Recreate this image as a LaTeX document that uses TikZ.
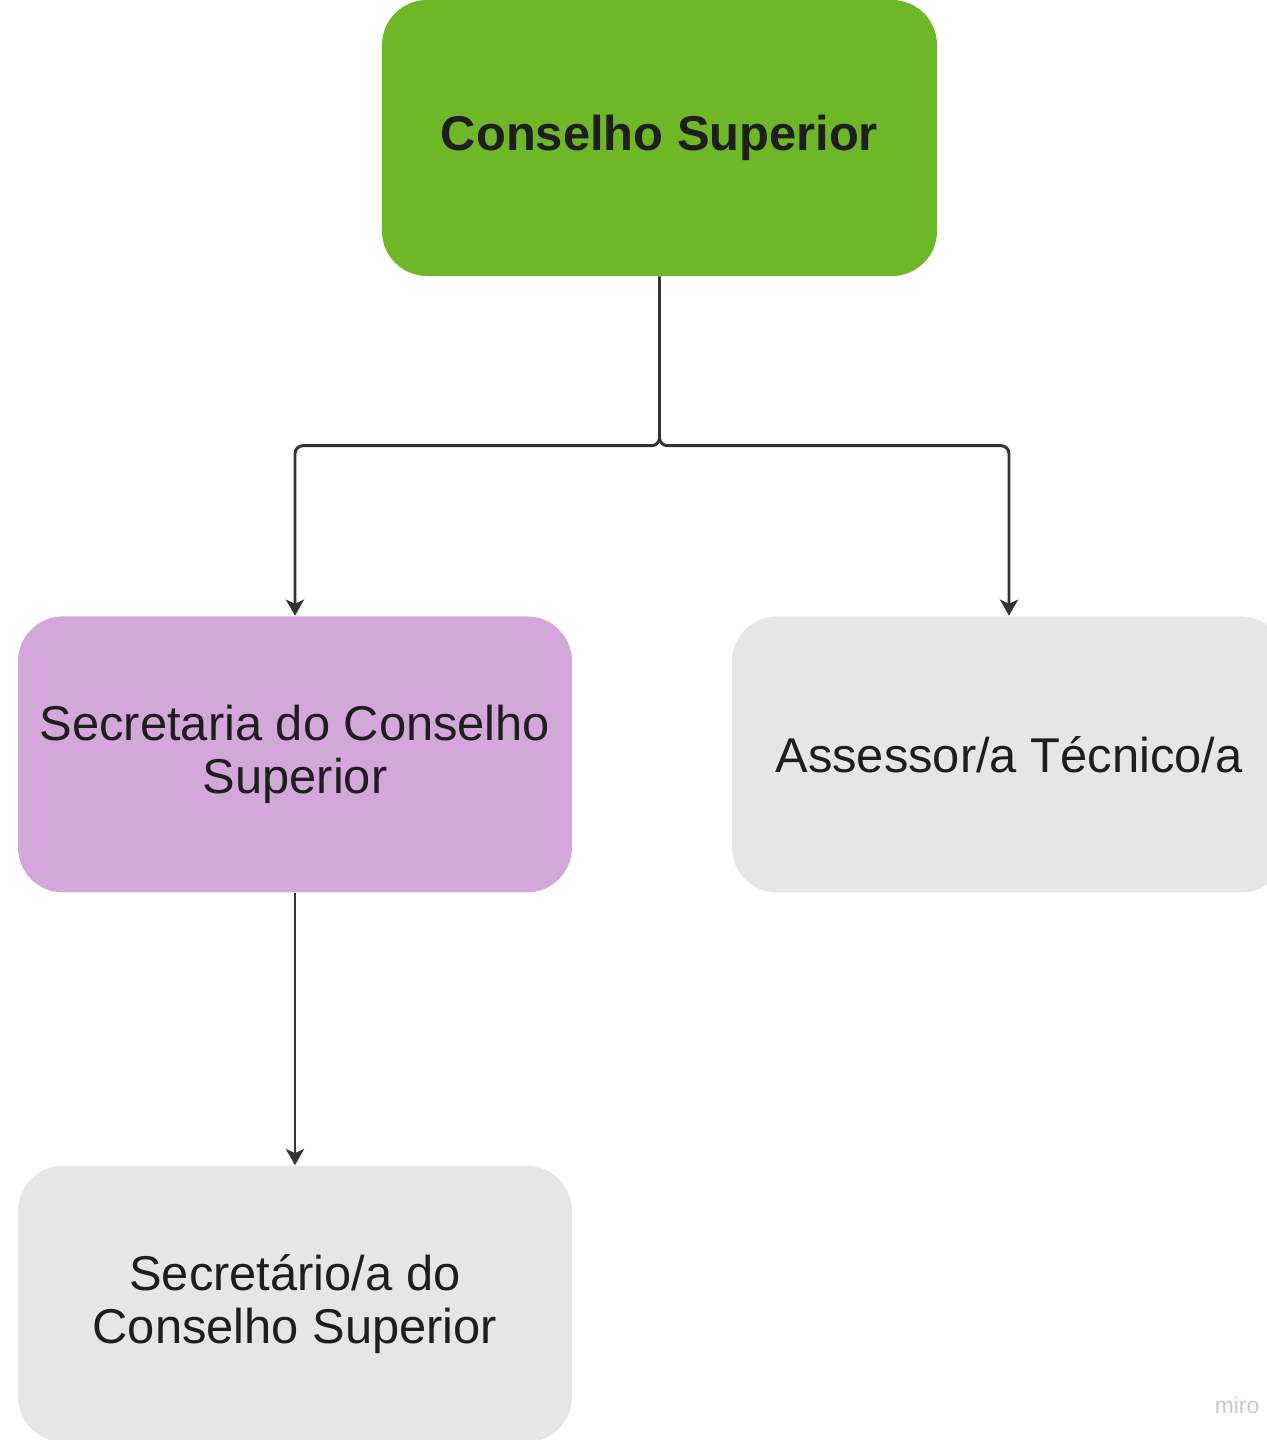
\documentclass[tikz,border=0pt]{standalone}
\usepackage{fontspec}
\setmainfont{Liberation Sans}
\usepackage{xcolor}
\usepackage{tikz}
\usetikzlibrary{arrows.meta, positioning, calc}
\definecolor{boardcolor}{RGB}{110, 183, 38}
\definecolor{secretcolor}{RGB}{211, 167, 218}
\definecolor{staffcolor}{RGB}{230, 230, 230}
\definecolor{linecolor}{RGB}{51, 51, 51}
\definecolor{textcolor}{RGB}{30, 30, 30}
\definecolor{markcolor}{RGB}{200, 200, 212}

\begin{document}
\begin{tikzpicture}[
    unit/.style={rounded corners=0.45cm, minimum width=5.54cm, minimum height=2.76cm, align=center, text=textcolor, font=\fontsize{13.9}{15.2}\selectfont, inner sep=0pt},
    arrow/.style={-{Stealth[length=1.6mm, width=1.8mm, inset=0.4mm]}, line width=0.85pt, draw=linecolor, rounded corners=0.08cm}
]
    % Page frame
    \path[use as bounding box] (-6.595,1.38) rectangle ++(12.66,-14.40);

    % Main entities
    \node[unit, fill=boardcolor, minimum width=5.55cm, font=\fontsize{13.9}{15.2}\selectfont\bfseries] (conselho) at (0,0) {Conselho Superior};
    \node[unit, fill=secretcolor, below=3.39cm of conselho, xshift=-3.645cm] (secretaria) {Secretaria do Conselho\\Superior};
    \node[unit, fill=staffcolor, below=3.39cm of conselho, xshift=3.495cm] (assessor) {Assessor/a Técnico/a};
    \node[unit, fill=staffcolor, below=2.72cm of secretaria] (secretario) {Secretário/a do\\Conselho Superior};
    \coordinate[below=1.69cm of conselho.south] (split);
    \node[text=markcolor, font=\fontsize{6.5}{7}\selectfont] (miro) at (5.775,-12.67) {miro};

    % Relationships
    \draw[arrow] (conselho.south) -- (split) -| (secretaria.north);
    \draw[arrow] (conselho.south) -- (split) -| (assessor.north);
    \draw[arrow] (secretaria) -- (secretario);
\end{tikzpicture}
\end{document}
